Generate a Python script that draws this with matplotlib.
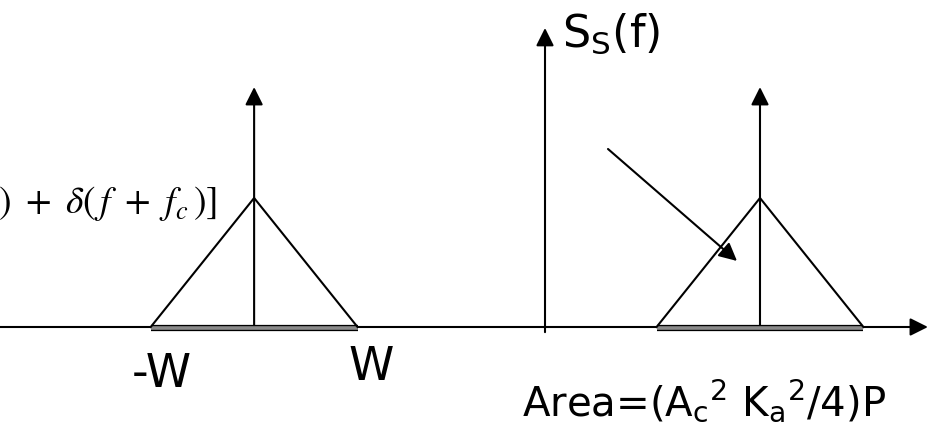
import matplotlib
matplotlib.use("Agg")
import matplotlib.pyplot as plt

plt.rcParams['font.family'] = ['DejaVu Sans']

# spectrum sketch: baseband copy on the left, shifted copy around f_c on the right
centers = [-1.353, 1.0]          # triangle centres (f_c scaled to 1)
half_width = 0.481               # W
peak = 1.0                       # triangle height
delta_height = 1.86              # height of the impulse arrows
axis_top = 2.318                 # top of the S_S(f) axis
axis_right = 1.781               # tip of the f axis

fig = plt.figure(figsize=(9.35, 4.28), dpi=100)
ax = fig.add_axes([0, 0, 1, 1])
ax.set_xlim(-2.535, 1.814)
ax.set_ylim(-0.783, 2.535)
ax.axis('off')

lw = 1.5
arrow = dict(arrowstyle='-|>', mutation_scale=27, lw=lw, color='black',
             shrinkA=0, shrinkB=0)

# f axis
ax.annotate('', xy=(axis_right, 0), xytext=(-2.535, 0), arrowprops=arrow)
# S_S(f) axis
ax.annotate('', xy=(0, axis_top), xytext=(0, -0.04), arrowprops=arrow)

for c in centers:
    # grey band on the base
    ax.plot([c - half_width, c + half_width], [-0.008, -0.008], color='black',
            lw=4.5, solid_capstyle='butt', zorder=3)
    ax.plot([c - half_width, c + half_width], [-0.008, -0.008], color='#8a8a8a',
            lw=2.6, solid_capstyle='butt', zorder=4)
    # triangle
    ax.plot([c - half_width, c, c + half_width], [0, peak, 0], color='black',
            lw=lw, zorder=5)
    # impulse
    ax.annotate('', xy=(c, delta_height), xytext=(c, 0), arrowprops=arrow)

# pointer to the area
ax.annotate('', xy=(0.893, 0.512), xytext=(0.293, 1.380), arrowprops=arrow)

ax.text(0.079, 2.171, r'S$\mathregular{_S}$(f)', fontsize=32, ha='left',
        va='baseline')
ax.text(-1.781, -0.465, '-W', fontsize=33, ha='center', va='baseline')
ax.text(-0.809, -0.411, 'W', fontsize=33, ha='center', va='baseline')
ax.text(-0.107, -0.682, r'Area=(A$\mathregular{_c{}^2}$ K$\mathregular{_a{}^2}$/4)P',
        fontsize=29, ha='left', va='baseline')
ax.text(-1.525, 0.87,
        r'$\frac{A_c^2}{4}[\delta(f\ -\ f_c)\ +\ \delta(\,f\ +\ f_c\,)]$',
        fontsize=27, ha='right', va='baseline', math_fontfamily='stix')

fig.savefig('out.png', dpi=100)
